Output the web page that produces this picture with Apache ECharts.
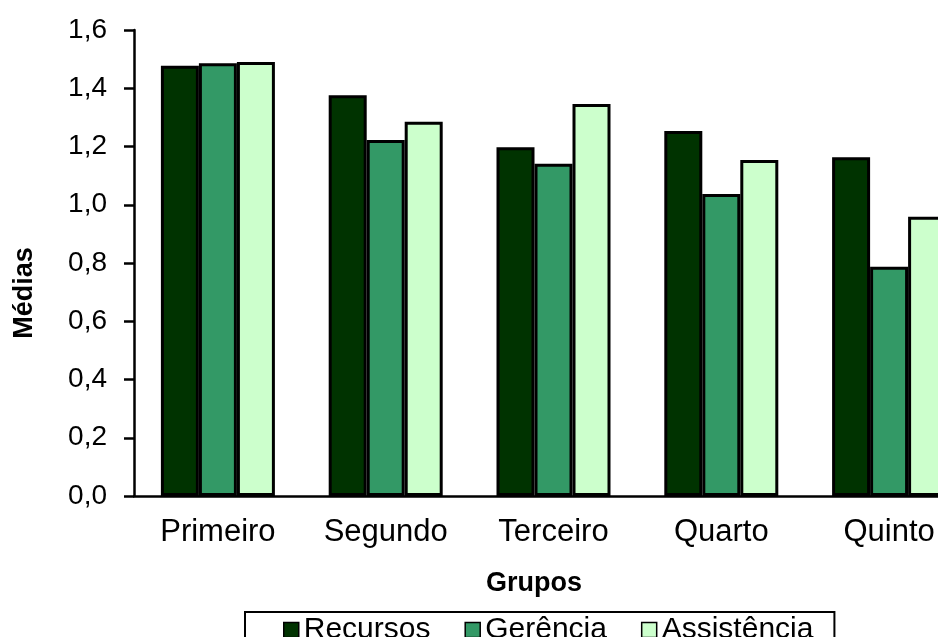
<!DOCTYPE html>
<html>
<head>
<meta charset="utf-8">
<script src="https://cdn.jsdelivr.net/npm/echarts@6/dist/echarts.min.js"></script>
<style>
  html, body { margin: 0; padding: 0; background: #fff; }
  #chart { width: 938px; height: 637px; }
</style>
</head>
<body>
<div id="chart"></div>
<script>
// dados
const grupos = ['Primeiro', 'Segundo', 'Terceiro', 'Quarto', 'Quinto']
const recursos = [1.477, 1.376, 1.197, 1.253, 1.163]
const gerencia = [1.486, 1.222, 1.141, 1.037, 0.787]
const assistencia = [1.49, 1.285, 1.346, 1.154, 0.959]
const yTickLabels = ['0,0', '0,2', '0,4', '0,6', '0,8', '1,0', '1,2', '1,4', '1,6']

const fonte = '"Liberation Sans", Arial, sans-serif'
const borda = { borderColor: '#000', borderWidth: 3 }

function serie(nome, cor, dados) {
  return {
    name: nome,
    type: 'bar',
    barWidth: 38,
    barGap: '0%',
    itemStyle: Object.assign({ color: cor }, borda),
    data: dados
  }
}

let myChart = echarts.init(document.getElementById('chart'))
myChart.setOption({
  animation: false,
  // o gráfico original é cortado à direita, por isso a grade passa da borda
  grid: { left: 134, top: 30, width: 839, height: 466, outerBoundsMode: 'none', containLabel: false },
  legend: {
    left: 245,
    top: 612,
    padding: [3, 21, 40, 38],
    borderColor: '#000',
    borderWidth: 2,
    icon: 'rect',
    itemWidth: 15,
    itemHeight: 15,
    itemGap: 34,
    itemStyle: { borderColor: '#000', borderWidth: 1.5 },
    textStyle: { fontFamily: fonte, fontSize: 30, color: '#000' }
  },
  xAxis: {
    type: 'category',
    data: grupos,
    axisLine: { lineStyle: { color: '#000', width: 2.5 } },
    axisTick: { length: 9, lineStyle: { color: '#000', width: 2.5 } },
    axisLabel: { interval: 0, margin: 21, fontFamily: fonte, fontSize: 31, color: '#000' }
  },
  yAxis: {
    type: 'value',
    min: 0,
    max: 1.6,
    interval: 0.2,
    splitLine: { show: false },
    axisLine: { show: true, lineStyle: { color: '#000', width: 2.5 } },
    axisTick: { show: true, length: 10, lineStyle: { color: '#000', width: 2.5 } },
    axisLabel: {
      margin: 27,
      fontFamily: fonte,
      fontSize: 28,
      color: '#000',
      formatter: v => yTickLabels[Math.round(v / 0.2)]
    }
  },
  graphic: [
    {
      type: 'text',
      x: 25, y: 293,
      rotation: Math.PI / 2,
      style: { text: 'Médias', font: 'bold 27px ' + fonte, fill: '#000', align: 'center', verticalAlign: 'middle' }
    },
    {
      type: 'text',
      x: 534, y: 584,
      style: { text: 'Grupos', font: 'bold 27px ' + fonte, fill: '#000', align: 'center', verticalAlign: 'middle' }
    }
  ],
  series: [
    serie('Recursos', '#003300', recursos),
    serie('Gerência', '#339966', gerencia),
    serie('Assistência', '#CCFFCC', assistencia)
  ]
})
</script>
</body>
</html>
